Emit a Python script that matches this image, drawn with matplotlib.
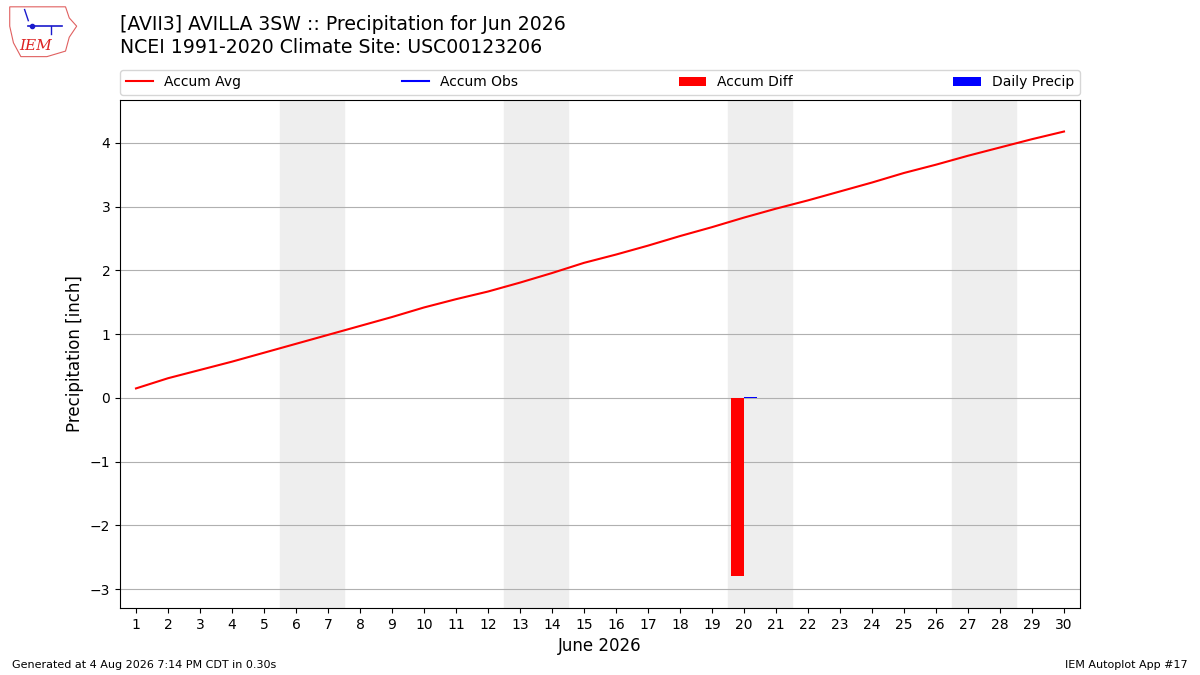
import numpy as np
import matplotlib.pyplot as plt
from matplotlib.patches import Polygon

days = np.arange(1, 31)
accum_avg = [0.15, 0.31, 0.44, 0.57, 0.71, 0.85, 0.99, 1.13, 1.27, 1.42,
             1.55, 1.67, 1.81, 1.96, 2.12, 2.25, 2.39, 2.54, 2.68, 2.83,
             2.97, 3.10, 3.24, 3.38, 3.53, 3.66, 3.80, 3.93, 4.06, 4.18]
obs_days = [20]
accum_obs = [0.02]
accum_diff = [-2.79]
daily_precip = [0.02]
weekends = [(6, 7), (13, 14), (20, 21), (27, 28)]

fig = plt.figure(figsize=(12, 6.75), dpi=100)
ax = fig.add_axes([0.1, 0.0993, 0.8, 0.7526])

for a, b in weekends:
    ax.axvspan(a - 0.5, b + 0.5, color='#eeeeee', zorder=0)

ax.plot(days, accum_avg, color='r', lw=1.5, label='Accum Avg', zorder=3)
ax.plot(obs_days, accum_obs, color='b', lw=1.5, label='Accum Obs', zorder=3)
ax.bar(np.array(obs_days) - 0.4, accum_diff, width=0.4, align='edge',
       color='r', label='Accum Diff', zorder=2)
ax.bar(obs_days, daily_precip, width=0.4, align='edge',
       color='b', label='Daily Precip', zorder=2)

ax.set_xlim(0.5, 30.5)
ax.set_ylim(-3.294, 4.675)
ax.set_xticks(days)
ax.set_xticklabels([str(d) for d in days])
ax.grid(axis='y', color='#b0b0b0', lw=0.8)
ax.set_axisbelow(True)
ax.set_ylabel('Precipitation [inch]', fontsize=12)
ax.set_xlabel('June 2026', fontsize=12)
ax.legend(loc='lower left', bbox_to_anchor=(0, 1.01, 1, 0.05), ncol=4,
          mode='expand', fontsize=10, borderaxespad=0)

fig.text(0.1, 0.964, '[AVII3] AVILLA 3SW :: Precipitation for Jun 2026',
         fontsize=13.6, va='center')
fig.text(0.1, 0.930, 'NCEI 1991-2020 Climate Site: USC00123206',
         fontsize=13.6, va='center')
fig.text(0.01, 0.01, 'Generated at 4 Aug 2026 7:14 PM CDT in 0.30s', fontsize=8)
fig.text(0.99, 0.01, 'IEM Autoplot App #17', fontsize=8, ha='right')

# rough IEM logo
logo = fig.add_axes([0.005, 0.912, 0.062, 0.082])
logo.axis('off')
logo.set_xlim(0, 1)
logo.set_ylim(0, 1)
logo.add_patch(Polygon([[0.05, 0.95], [0.8, 0.95], [0.85, 0.75], [0.95, 0.6],
                        [0.85, 0.4], [0.8, 0.15], [0.55, 0.05], [0.2, 0.05],
                        [0.1, 0.3], [0.05, 0.6]], closed=True, fill=False,
                       ec='#e06060', lw=0.8))
logo.plot([0.3, 0.75], [0.6, 0.6], color='#1a1acc', lw=1.2)
logo.plot([0.35], [0.6], 'o', color='#1a1acc', ms=3)
logo.plot([0.25, 0.3], [0.9, 0.7], color='#1a1acc', lw=1)
logo.plot([0.6, 0.6], [0.6, 0.45], color='#1a1acc', lw=1)
logo.text(0.4, 0.25, 'IEM', color='#dd2222', fontsize=11, family='serif',
          style='italic', ha='center', va='center')

fig.savefig('out.png', dpi=100)
